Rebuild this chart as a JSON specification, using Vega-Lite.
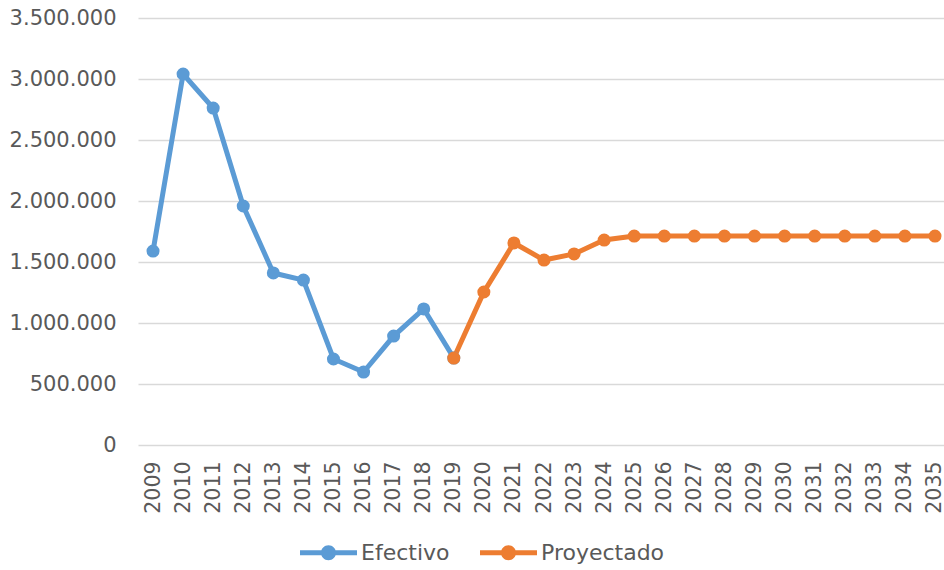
{
  "$schema": "https://vega.github.io/schema/vega-lite/v6.json",
  "width": 806,
  "height": 427,
  "autosize": {"type": "none"},
  "padding": {"left": 138, "top": 18, "right": 0, "bottom": 125},
  "background": "white",
  "config": {
    "view": {"stroke": null},
    "font": "DejaVu Sans",
    "locale": {"number": {"decimal": ",", "thousands": ".", "grouping": [3], "currency": ["", ""]}}
  },
  "data": {
    "values": [
      {"year": 2009, "serie": "Efectivo", "value": 1590000},
      {"year": 2010, "serie": "Efectivo", "value": 3041000},
      {"year": 2011, "serie": "Efectivo", "value": 2762000},
      {"year": 2012, "serie": "Efectivo", "value": 1959000},
      {"year": 2013, "serie": "Efectivo", "value": 1410000},
      {"year": 2014, "serie": "Efectivo", "value": 1352000},
      {"year": 2015, "serie": "Efectivo", "value": 705000},
      {"year": 2016, "serie": "Efectivo", "value": 598000},
      {"year": 2017, "serie": "Efectivo", "value": 893000},
      {"year": 2018, "serie": "Efectivo", "value": 1115000},
      {"year": 2019, "serie": "Efectivo", "value": 713000},
      {"year": 2019, "serie": "Proyectado", "value": 713000},
      {"year": 2020, "serie": "Proyectado", "value": 1254000},
      {"year": 2021, "serie": "Proyectado", "value": 1656000},
      {"year": 2022, "serie": "Proyectado", "value": 1516000},
      {"year": 2023, "serie": "Proyectado", "value": 1566000},
      {"year": 2024, "serie": "Proyectado", "value": 1680000},
      {"year": 2025, "serie": "Proyectado", "value": 1713000},
      {"year": 2026, "serie": "Proyectado", "value": 1713000},
      {"year": 2027, "serie": "Proyectado", "value": 1713000},
      {"year": 2028, "serie": "Proyectado", "value": 1713000},
      {"year": 2029, "serie": "Proyectado", "value": 1713000},
      {"year": 2030, "serie": "Proyectado", "value": 1713000},
      {"year": 2031, "serie": "Proyectado", "value": 1713000},
      {"year": 2032, "serie": "Proyectado", "value": 1713000},
      {"year": 2033, "serie": "Proyectado", "value": 1713000},
      {"year": 2034, "serie": "Proyectado", "value": 1713000},
      {"year": 2035, "serie": "Proyectado", "value": 1713000}
    ]
  },
  "mark": {"type": "line", "strokeWidth": 5, "point": {"filled": true, "size": 170, "opacity": 1}},
  "encoding": {
    "x": {
      "field": "year",
      "type": "quantitative",
      "scale": {"domain": [2008.5, 2035.3], "nice": false, "zero": false},
      "axis": {
        "title": null,
        "values": [2009,2010,2011,2012,2013,2014,2015,2016,2017,2018,2019,2020,2021,2022,2023,2024,2025,2026,2027,2028,2029,2030,2031,2032,2033,2034,2035],
        "format": "d",
        "labelAngle": -90,
        "labelAlign": "right",
        "labelBaseline": "middle",
        "labelFontSize": 20.5,
        "labelColor": "#595959",
        "labelPadding": 16,
        "ticks": false,
        "domain": false,
        "grid": false,
        "labelFlush": false,
        "labelOverlap": false
      }
    },
    "y": {
      "field": "value",
      "type": "quantitative",
      "scale": {"domain": [0, 3500000], "nice": false},
      "axis": {
        "title": null,
        "values": [0, 500000, 1000000, 1500000, 2000000, 2500000, 3000000, 3500000],
        "format": ",d",
        "labelFontSize": 21,
        "labelColor": "#595959",
        "labelPadding": 22,
        "ticks": false,
        "domain": false,
        "gridColor": "#d9d9d9",
        "gridWidth": 1.5
      }
    },
    "color": {
      "field": "serie",
      "type": "nominal",
      "scale": {"domain": ["Efectivo", "Proyectado"], "range": ["#5B9BD5", "#ED7D31"]},
      "legend": {
        "title": null,
        "orient": "none",
        "direction": "horizontal",
        "legendX": 162,
        "legendY": 506,
        "symbolType": "M -1 -0.088 H 1 V 0.088 H -1 Z M 0 -0.263 A 0.263 0.263 0 1 1 0 0.263 A 0.263 0.263 0 1 1 0 -0.263 Z",
        "symbolSize": 3249,
        "symbolStrokeWidth": 0,
        "symbolOpacity": 1,
        "labelFontSize": 22,
        "labelColor": "#595959",
        "labelOffset": 4,
        "columnPadding": 30
      }
    },
    "order": {"field": "year"}
  }
}
